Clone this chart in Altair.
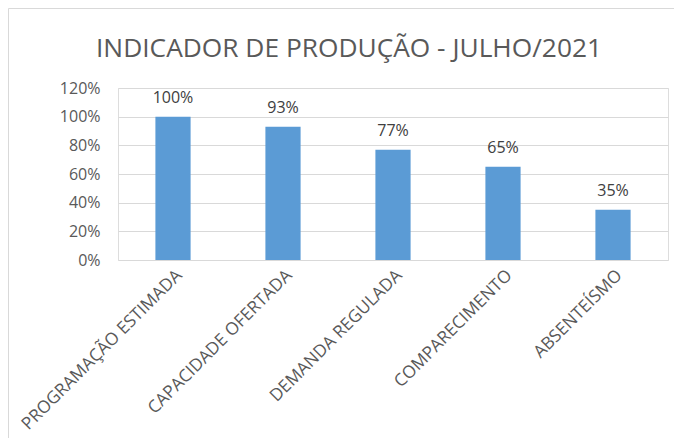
import altair as alt
import pandas as pd

categories = ["PROGRAMAÇÃO ESTIMADA", "CAPACIDADE OFERTADA", "DEMANDA REGULADA",
              "COMPARECIMENTO", "ABSENTEÍSMO"]
values = [1.00, 0.93, 0.77, 0.65, 0.35]
y_ticks = [0, 0.2, 0.4, 0.6, 0.8, 1.0, 1.2]
title_text = "INDICADOR DE PRODUÇÃO - JULHO/2021"

df = pd.DataFrame({"cat": categories, "v": values})

FONT = "Open Sans"
GREY = "#595959"

x_enc = alt.X("cat:N", sort=categories, title=None,
              scale=alt.Scale(paddingInner=0.68, paddingOuter=0.34),
              axis=alt.Axis(labelAngle=-45, labelAlign="right", labelBaseline="top",
                            labelFontSize=17.3, labelColor=GREY, labelFont=FONT,
                            ticks=False, domain=False, labelPadding=6,
                            labelLimit=400, labelOverlap=False))
y_enc = alt.Y("v:Q", title=None,
              scale=alt.Scale(domain=[0, 1.2], nice=False),
              axis=alt.Axis(values=y_ticks, format=".0%", labelFontSize=16,
                            labelColor=GREY, labelFont=FONT, ticks=False, tickSize=0,
                            domain=False, labelPadding=18, gridColor="#D9D9D9",
                            gridWidth=1, labelOverlap=False, labelFlush=False))

bars = alt.Chart(df).mark_bar(color="#5B9BD5").encode(x=x_enc, y=y_enc)

labels = alt.Chart(df).mark_text(
    font=FONT, fontSize=16, color="#404040", baseline="alphabetic", dy=-14
).encode(x=x_enc, y=y_enc, text=alt.Text("v:Q", format=".0%"))

border = alt.Chart(pd.DataFrame({"a": [0]})).mark_rect(
    fill=None, stroke="#D9D9D9", strokeWidth=1
).encode(x=alt.value(-109.5), x2=alt.value(700), y=alt.value(-79.5), y2=alt.value(500))

title = alt.Chart(pd.DataFrame({"t": [title_text]})).mark_text(
    font=FONT, fontSize=26.3, color=GREY, align="center", baseline="alphabetic"
).encode(text="t:N", x=alt.value(231), y=alt.value(-31))

chart = alt.layer(border, bars, labels, title).properties(
    width=550, height=172,
    autosize=alt.AutoSizeParams(type="none"),
    padding={"left": 110, "top": 80, "right": 6, "bottom": 178},
).configure_view(stroke=None).configure(background="white")

chart.save("out.html", embed_options={"renderer": "svg", "actions": False})
